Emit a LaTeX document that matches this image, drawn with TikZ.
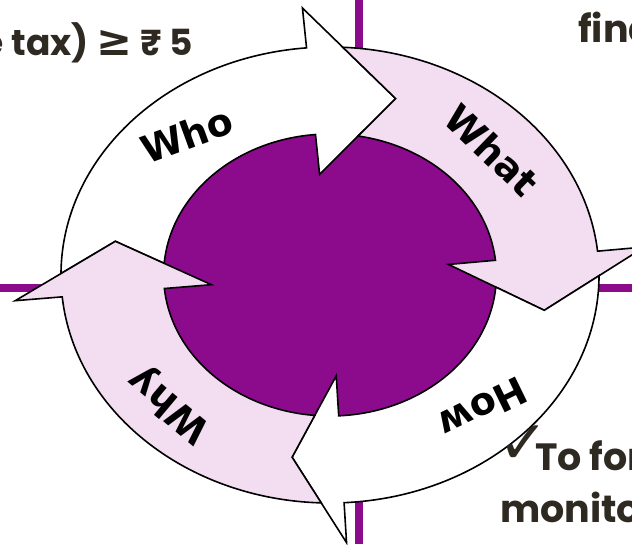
\documentclass[tikz,border=0pt]{standalone}
\usepackage{fontspec}
\newfontfamily\labelfont{DejaVu Sans}
\newfontfamily\slidefont{Poppins}
\newfontfamily\symfont{DejaVu Sans}
\usetikzlibrary{positioning}
\definecolor{ringpurple}{RGB}{140,10,140}
\definecolor{ringpink}{RGB}{242,222,240}
\definecolor{slidetext}{RGB}{46,42,34}

% #1 fill, #2 tail outer angle, #3 head base angle, #4 tip angle,
% #5 tail inner angle, #6 tip angle of the arrow before
\newcommand\ringarrow[6]{%
  \draw[arrowline,fill=#1] (#2:228) arc[start angle=#2,end angle=#3,radius=228pt]
    -- (#3:268) -- (#4:185) -- (#3:101) -- (#3:141)
    arc[start angle=#3,end angle=#5,radius=141pt] -- (#6:185) -- cycle;}

\begin{document}
\begin{tikzpicture}[x=1pt,y=1pt,
  arrowline/.style={draw=black,line width=1.6pt,line join=miter},
  qword/.style={font=\labelfont\bfseries\fontsize{38}{38}\selectfont,inner sep=0pt},
  slide/.style={font=\slidefont\bfseries\fontsize{38}{38}\selectfont,text=slidetext,inner sep=0pt}]
  \useasboundingbox (0,0) rectangle (632,-544);
  \draw[ringpurple,line width=8pt] (359,0) -- (359,-544);
  \draw[ringpurple,line width=8pt] (0,-288) -- (632,-288);
  \begin{scope}[shift={(330,-275)},xscale=1.18]
    \fill[ringpurple] (0,0) circle[radius=141pt];
    \ringarrow{white}{179.63}{95}{72.5}{175.26}{169.5}
    \ringarrow{ringpink}{87.27}{6}{-11}{80.28}{72.5}
    \ringarrow{white}{-0.18}{-87}{-100}{-4.91}{-11}
    \ringarrow{ringpink}{268.13}{185.5}{169.5}{264.75}{260}
  \end{scope}
  \node[qword,rotate=20] (who) at (187,-135) {Who};
  \node[qword,rotate=-44] (what) at (492,-150) {What};
  \node[qword,rotate=206] (how) at (483,-408) {How};
  \node[qword,rotate=140] (why) at (170,-404) {Why};
  \node[slide,anchor=base east,font=\slidefont\bfseries\fontsize{36}{36}\selectfont] (taxline) at (193,-55)
    {e tax) {\symfont\fontsize{43}{43}\selectfont ≥} ₹ 5};
  \node[font=\symfont\fontsize{60}{60}\selectfont,text=slidetext,anchor=base west,inner sep=0pt] (tick) at (498,-463) {✓};
  \node[slide,anchor=base west] (findline) at (578,-42) {fina};
  \node[slide,anchor=base west] (formline) at (535,-470) {To for};
  \node[slide,anchor=base west] (monline) at (500,-522) {monitor};
\end{tikzpicture}
\end{document}
